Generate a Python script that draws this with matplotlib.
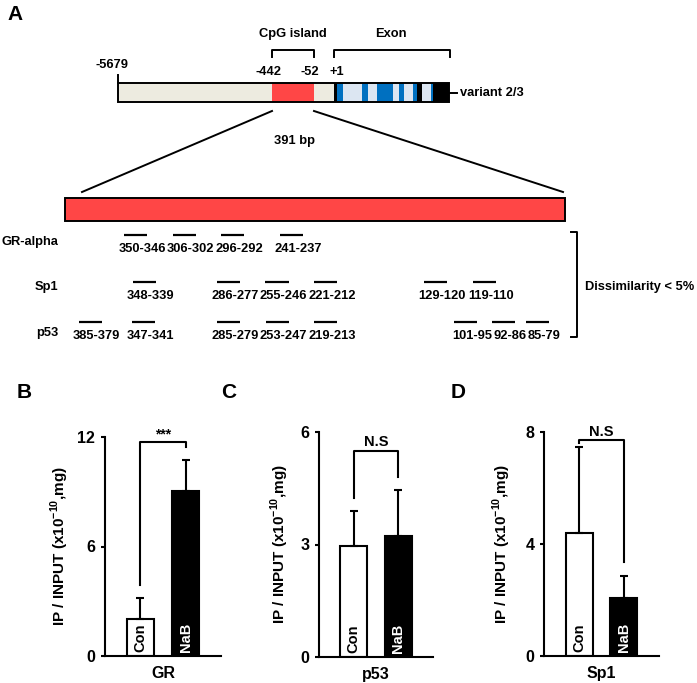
import matplotlib
matplotlib.use("Agg")
import matplotlib.pyplot as plt
import numpy as np

plt.rcParams['font.family'] = ['Liberation Sans', 'DejaVu Sans']
plt.rcParams['font.weight'] = 'bold'
plt.rcParams['axes.labelweight'] = 'bold'
plt.rcParams['mathtext.fontset'] = 'custom'
plt.rcParams['mathtext.rm'] = 'Liberation Sans:bold'
plt.rcParams['mathtext.bf'] = 'Liberation Sans:bold'

# ---- panel A: promoter map ----
gene_ticks = ["-5679", "-442", "-52", "+1"]
region_label = "391 bp"
factors = ["GR-alpha", "Sp1", "p53"]
gr_sites = [(350, 346), (306, 302), (296, 292), (241, 237)]
sp1_sites = [(348, 339), (286, 277), (255, 246), (221, 212), (129, 120), (119, 110)]
p53_sites = [(385, 379), (347, 341), (285, 279), (253, 247), (219, 213),
             (101, 95), (92, 86), (85, 79)]

# ---- panels B-D: ChIP values ----
groups = ["Con", "NaB"]
targets = ["GR", "p53", "Sp1"]
gr_mean = [2.03, 9.04]
gr_err = [1.15, 1.70]
p53_mean = [2.96, 3.23]
p53_err = [0.93, 1.22]
sp1_mean = [4.39, 2.07]
sp1_err = [3.07, 0.79]
y_max = [12, 6, 8]
sig_labels = ["***", "N.S", "N.S"]
sig_heights = [11.7, 5.5, 7.7]

BEIGE = "#EDEBE0"
RED = "#FF4646"
BLUE = "#0070C0"
LIGHT = "#DCE6F2"
FS = 9.3

W, H = 697, 683
fig = plt.figure(figsize=(W / 100, H / 100), dpi=100)

# schematic canvas in pixel units
ax = fig.add_axes([0, 0, 1, 1])
ax.set_xlim(0, W)
ax.set_ylim(H, 0)
ax.axis('off')

# gene bar (schematic, not to scale)
edges = [118, 272, 314, 334, 337, 343, 362, 368, 377, 393, 399, 404, 413, 417, 422, 431, 433, 449]
cols = [BEIGE, RED, BEIGE, "k", BLUE, LIGHT, BLUE, LIGHT, BLUE, LIGHT, BLUE, LIGHT, BLUE,
        "k", LIGHT, BLUE, "k"]
ax.barh(92.5, np.diff(edges), left=edges[:-1], height=19, color=cols, linewidth=0)
ax.add_patch(plt.Rectangle((118, 83), 331, 19, fill=False, ec="k", lw=1.4))
ax.plot([118, 118], [75, 83], color="k", lw=1.4)
ax.plot([449, 457], [92.5, 92.5], color="k", lw=1.4)
ax.text(460, 92.5, "variant 2/3", fontsize=FS, ha="left", va="center")

for lab, (x, y) in zip(gene_ticks, [(112, 65), (268, 72), (310, 72), (337, 72)]):
    ax.text(x, y, lab, fontsize=FS, ha="center", va="center")

# CpG island / exon brackets
ax.plot([272, 272, 314, 314], [57, 50, 50, 57], color="k", lw=1.4)
ax.plot([334, 334, 450, 450], [57, 50, 50, 57], color="k", lw=1.4)
ax.text(293, 34, "CpG island", fontsize=FS, ha="center", va="center")
ax.text(391, 34, "Exon", fontsize=FS, ha="center", va="center")

# zoom lines and enlarged CpG region
ax.plot([272, 82], [111, 192], color="k", lw=1.4)
ax.plot([314, 563], [111, 192], color="k", lw=1.4)
ax.text(295, 141, region_label, fontsize=FS, ha="center", va="center")
ax.add_patch(plt.Rectangle((65, 198), 500, 23, fc=RED, ec="k", lw=1.4))

ax.text(15, 15, "A", fontsize=15, ha="center", va="center")

# binding sites on a bp scale
axm = fig.add_axes([65 / W, 0, 500 / W, 1])
axm.set_xlim(400, 45)
axm.set_ylim(H, 0)
axm.axis('off')
px_per_bp = 500 / 355


def label_width(s):
    # rough width in px of a bold 9.3 pt label
    return sum(7.2 if c.isdigit() else 4.3 for c in s)


def spread(centers, gaps, n_iter=300):
    # push neighbouring marks apart (in bp) so their labels don't collide
    c = list(centers)
    for _ in range(n_iter):
        for i in range(len(c) - 1):
            d = c[i] - c[i + 1]
            if d < gaps[i]:
                s = (gaps[i] - d) / 2
                c[i] += s
                c[i + 1] -= s
    return c


half = 8.2  # half length of a site mark, bp
row_y = [(235, 249, 242), (282, 296, 287), (322, 336, 333)]
for name, sites, (yl, yt, yn) in zip(factors, [gr_sites, sp1_sites, p53_sites], row_y):
    labels = [f"{a}-{b}" for a, b in sites]
    widths = [label_width(s) for s in labels]
    gaps = [((widths[i] + widths[i + 1]) / 2 + 1) / px_per_bp for i in range(len(labels) - 1)]
    mids = spread([(a + b) / 2 for a, b in sites], gaps)
    for lab, m in zip(labels, mids):
        axm.plot([m + half, m - half], [yl, yl], color="k", lw=1.6, solid_capstyle="butt")
        axm.text(m - 4.5, yt, lab, fontsize=FS, ha="center", va="center")
    ax.text(58, yn, name, fontsize=FS, ha="right", va="center")

ax.plot([571, 577, 577, 571], [232, 232, 337, 337], color="k", lw=1.4)
ax.text(585, 287, "Dissimilarity < 5%", fontsize=FS, ha="left", va="center")

# ---- bar panels ----
boxes = [(105, 437, 221, 656), (319, 432, 433, 657), (544, 432, 659, 656)]
letters = [("B", 24), ("C", 229), ("D", 458)]
ylab_x = [-0.295, -0.245, -0.27]
means = [gr_mean, p53_mean, sp1_mean]
errs = [gr_err, p53_err, sp1_err]

for k in range(3):
    x0, y0, x1, y1 = boxes[k]
    bx = fig.add_axes([x0 / W, (H - y1) / H, (x1 - x0) / W, (y1 - y0) / H])
    xs = np.arange(len(groups))
    bx.bar(xs, means[k], width=0.6, color=["white", "black"], edgecolor="k", linewidth=1.5)
    bx.errorbar(xs, means[k], yerr=[[0, 0], errs[k]], fmt="none", ecolor="k",
                elinewidth=1.5, capsize=3, capthick=1.5)
    for i, g in enumerate(groups):
        bx.annotate(g, (i, 0), xytext=(0, 3), textcoords="offset points", rotation=90,
                    ha="center", va="bottom", fontsize=10.5,
                    color="k" if i == 0 else "white")
    ym = y_max[k]
    bx.set_ylim(0, ym)
    bx.set_xlim(-0.78, 1.78)
    bx.set_yticks([0, ym / 2, ym])
    bx.set_yticklabels([f"{v:g}" for v in [0, ym / 2, ym]])
    bx.set_xticks([])
    bx.tick_params(axis="y", length=3, width=1.5, pad=4, labelsize=11.5)
    for s in ["top", "right"]:
        bx.spines[s].set_visible(False)
    for s in ["left", "bottom"]:
        bx.spines[s].set_linewidth(1.5)
    bx.set_ylabel(r"IP / INPUT (x10$^{\mathbf{-10}}$,mg)", fontsize=11)
    bx.yaxis.set_label_coords(ylab_x[k], 0.5)
    bx.set_xlabel(targets[k], fontsize=11.5)
    bx.xaxis.set_label_coords(0.5, -0.045)

    # significance bracket
    top = sig_heights[k]
    gap = 0.06 * ym
    tops = [m + e for m, e in zip(means[k], errs[k])]
    legs = [min(t + gap, top - 0.01 * ym) for t in tops]
    bx.plot([0, 0, 1, 1], [legs[0], top, top, legs[1]], color="k", lw=1.5, clip_on=False)
    bx.annotate(sig_labels[k], (0.5, top), xytext=(0, 1), textcoords="offset points",
                ha="center", va="bottom", fontsize=10 if k == 0 else 10.5,
                annotation_clip=False)

    ax.text(letters[k][1], 393, letters[k][0], fontsize=15, ha="center", va="center")

fig.savefig("out.png", dpi=100)
